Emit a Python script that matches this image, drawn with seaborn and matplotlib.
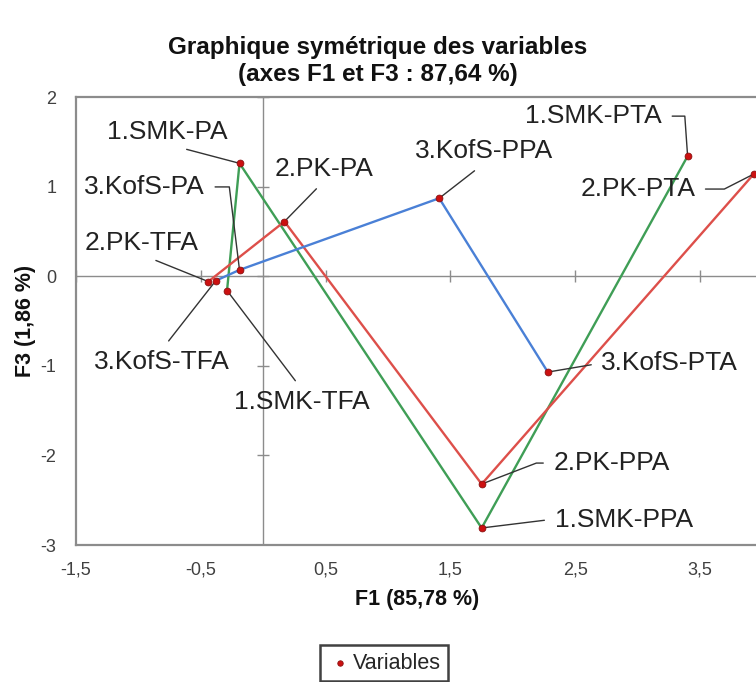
import matplotlib
matplotlib.use("Agg")
import matplotlib.pyplot as plt
import seaborn as sns
import pandas as pd

# ---- data ----
levels = ["TFA", "PA", "PPA", "PTA"]
smk_f1 = [-0.29, -0.19, 1.75, 3.40]
smk_f3 = [-0.16, 1.26, -2.81, 1.34]
pk_f1 = [-0.44, 0.17, 1.75, 3.93]
pk_f3 = [-0.06, 0.61, -2.32, 1.14]
kofs_f1 = [-0.38, -0.19, 1.41, 2.28]
kofs_f3 = [-0.05, 0.07, 0.87, -1.07]
groups = ["1.SMK", "2.PK", "3.KofS"]
xticks = [-1.5, -0.5, 0.5, 1.5, 2.5, 3.5]
xticklabels = ["-1,5", "-0,5", "0,5", "1,5", "2,5", "3,5"]
yticks = [2, 1, 0, -1, -2, -3]
yticklabels = ["2", "1", "0", "-1", "-2", "-3"]

rows = []
for g, xs, ys in zip(groups, [smk_f1, pk_f1, kofs_f1], [smk_f3, pk_f3, kofs_f3]):
    for i, (lv, x, y) in enumerate(zip(levels, xs, ys)):
        rows.append({"group": g, "order": i, "label": f"{g}-{lv}", "F1": x, "F3": y})
df = pd.DataFrame(rows)

sns.set_style("white")
plt.rcParams["font.family"] = ["Liberation Sans", "DejaVu Sans"]

fig = plt.figure(figsize=(7.56, 6.82), dpi=100)
ax = fig.add_axes([76 / 756, 137 / 682, (762.5 - 76) / 756, 448 / 682])

line_colors = {"1.SMK": "#3f9e56", "2.PK": "#dd4f4a", "3.KofS": "#4a80d6"}
sns.lineplot(data=df, x="F1", y="F3", hue="group", units="group", estimator=None,
             sort=False, palette=line_colors, lw=1.7, legend=False, ax=ax, zorder=3)
sns.scatterplot(data=df, x="F1", y="F3", color="#cc1010", edgecolor="#8a1010",
                linewidth=0.6, s=24, label="Variables", ax=ax, zorder=4, legend=False)

ax.set_xlim(-1.5, 4.0)
ax.set_ylim(-3, 2)
ax.set_xticks(xticks)
ax.set_xticklabels(xticklabels)
ax.set_yticks(yticks)
ax.set_yticklabels(yticklabels)
ax.tick_params(length=0, labelsize=13, colors="#404040")
ax.tick_params(axis="x", pad=12)
ax.tick_params(axis="y", pad=14)
ax.set_xlabel("")
ax.set_ylabel("")
for s in ax.spines.values():
    s.set_color("#8c8c8c")
    s.set_linewidth(1.6)
    s.set_visible(True)

# zero axes with cross tick marks
ax.axhline(0, color="#8c8c8c", lw=1.0, zorder=1)
ax.axvline(0, color="#8c8c8c", lw=1.0, zorder=1)
ax.plot(xticks, [0] * len(xticks), ls="none", marker="|", ms=8, mew=1.0,
        color="#8c8c8c", zorder=1)
ax.plot([0] * len(yticks), yticks, ls="none", marker="_", ms=8, mew=1.0,
        color="#8c8c8c", zorder=1)

# annotations: (offset px, relpos, connectionstyle)
ann = {
    "1.SMK-PA": ((-72, 31), (0.5, 0), "arc3"),
    "3.KofS-PA": ((-95, 83), (1, 0.5), "angle,angleA=0,angleB=97,rad=0"),
    "2.PK-PA": ((40, 53), (0.5, 0), "arc3"),
    "2.PK-TFA": ((-67, 39), (0.5, 0), "arc3"),
    "3.KofS-TFA": ((-54, -81), (0.5, 1), "arc3"),
    "1.SMK-TFA": ((75, -111), (0.5, 1), "arc3"),
    "3.KofS-PPA": ((45, 47), (0.5, 0), "arc3"),
    "1.SMK-PTA": ((-94, 40), (1, 0.5), "angle,angleA=0,angleB=94,rad=0"),
    "2.PK-PTA": ((-116, -15), (1, 0.5), "angle,angleA=0,angleB=27,rad=0"),
    "3.KofS-PTA": ((122, 9), (0, 0.5), "arc3"),
    "2.PK-PPA": ((130, 21), (0, 0.5), "angle,angleA=0,angleB=21,rad=0"),
    "1.SMK-PPA": ((142, 8), (0, 0.5), "angle,angleA=0,angleB=7,rad=0"),
}
for _, r in df.iterrows():
    off, rel, cs = ann[r["label"]]
    ax.annotate(r["label"], xy=(r["F1"], r["F3"]), xytext=off, textcoords="offset pixels",
                ha="center", va="center", fontsize=19, color="#222222",
                annotation_clip=False,
                arrowprops=dict(arrowstyle="-", color="#333333", lw=1.0, relpos=rel,
                                shrinkA=5, shrinkB=0, connectionstyle=cs))

fig.text(0.5, 1 - 61 / 682, "Graphique symétrique des variables\n(axes F1 et F3 : 87,64 %)",
         ha="center", va="center", fontsize=17.5, fontweight="bold", color="#111111",
         linespacing=1.2)
fig.text(417 / 756, 1 - 600 / 682, "F1 (85,78 %)", ha="center", va="center",
         fontsize=15.5, fontweight="bold", color="#111111")
fig.text(25 / 756, 1 - 321 / 682, "F3 (1,86 %)", ha="center", va="center", rotation=90,
         fontsize=15.5, fontweight="bold", color="#111111")

h, l = ax.get_legend_handles_labels()
leg = fig.legend(h, l, loc="upper center", bbox_to_anchor=(384 / 756, 1 - 645 / 682),
                 frameon=True, fancybox=False, fontsize=15.5, handletextpad=0.0,
                 markerscale=0.8, borderpad=0.35, borderaxespad=0.0, handlelength=1.2)
leg.get_frame().set_edgecolor("#111111")
leg.get_frame().set_linewidth(1.8)

fig.savefig("out.png", dpi=100)
